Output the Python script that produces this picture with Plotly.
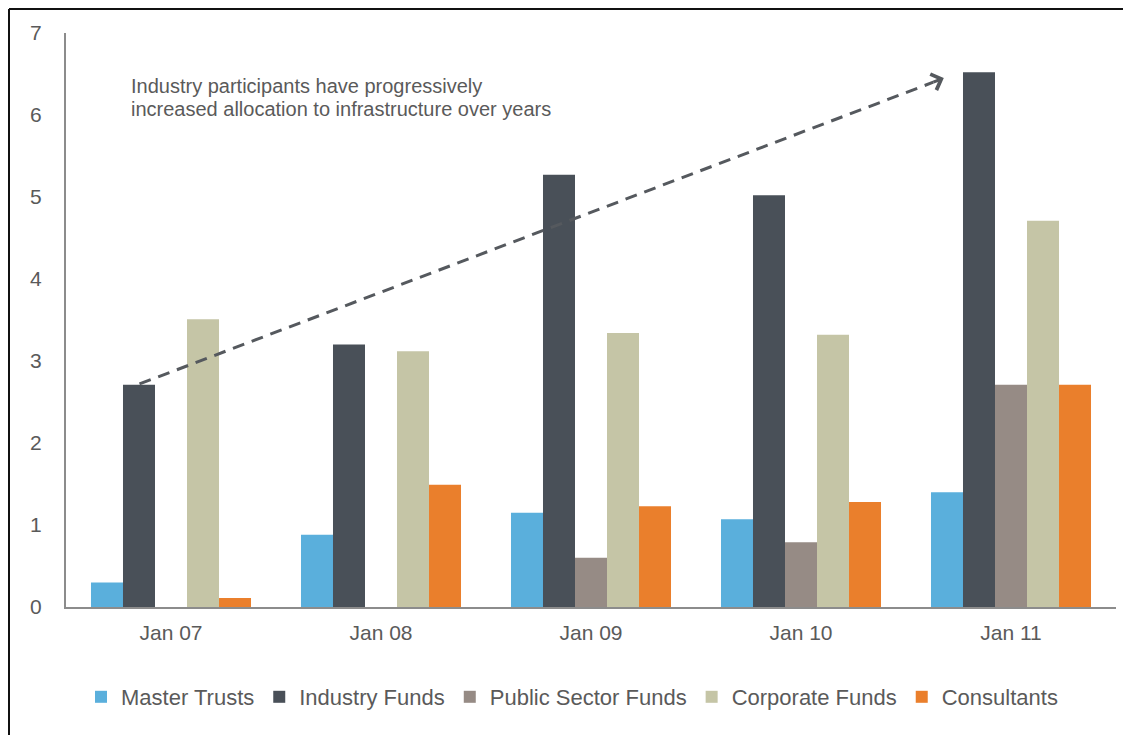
import plotly.graph_objects as go

# data
periods = ["Jan 07", "Jan 08", "Jan 09", "Jan 10", "Jan 11"]
master_trusts = [0.30, 0.88, 1.15, 1.07, 1.40]
industry_funds = [2.71, 3.20, 5.27, 5.02, 6.52]
public_sector_funds = [0.0, 0.0, 0.60, 0.79, 2.71]
corporate_funds = [3.51, 3.12, 3.34, 3.32, 4.71]
consultants = [0.11, 1.49, 1.23, 1.28, 2.71]

y_ticks = [0, 1, 2, 3, 4, 5, 6, 7]
note_lines = ["Industry participants have progressively",
              "increased allocation to infrastructure over years"]

series = [
    ("Master Trusts", master_trusts, "#5aafdc"),
    ("Industry Funds", industry_funds, "#495058"),
    ("Public Sector Funds", public_sector_funds, "#968b85"),
    ("Corporate Funds", corporate_funds, "#c5c5a6"),
    ("Consultants", consultants, "#ea7f2c"),
]

# page body has an 8px margin, so the figure is shrunk by that much
W, H = 1123, 727
M_L, M_R, M_T, M_B = 58, 15, 25, 128
PW = W - M_L - M_R
PH = H - M_T - M_B
TEXT = "#5a5a5a"
FONT = "Liberation Sans, Arial, sans-serif"


def px(x):
    # reference-image x pixel -> paper fraction
    return (x - 8 - M_L) / PW


def py(y):
    # reference-image y pixel -> paper fraction
    return (H - M_B - (y - 8)) / PH


fig = go.Figure()
for name, vals, color in series:
    fig.add_trace(go.Bar(
        x=periods, y=vals, name=name,
        marker=dict(color=color, line=dict(width=0)),
    ))

# dashed trend arrow (body + chevron head)
ARROW_FROM = (-0.15, 2.72)
ARROW_TO = (3.68, 6.45)
fig.add_shape(
    type="line", xref="x", yref="y",
    x0=ARROW_FROM[0], y0=ARROW_FROM[1], x1=ARROW_TO[0] - 0.05, y1=ARROW_TO[1] - 0.05,
    line=dict(color="#55595e", width=3, dash="12px,8px"),
)
fig.add_annotation(
    x=ARROW_TO[0], y=ARROW_TO[1], xref="x", yref="y",
    text="", showarrow=True, arrowhead=4, arrowsize=1.1, arrowwidth=3,
    arrowcolor="#55595e", ax=-12, ay=4.6,
)

for i, line in enumerate(note_lines):
    fig.add_annotation(
        xref="paper", yref="paper", x=px(129), y=py(86 + 23 * i),
        xanchor="left", yanchor="middle", align="left", showarrow=False,
        text=line, font=dict(size=20, color=TEXT, family=FONT),
    )

# frame of the original slide (top and left edges)
fig.add_shape(type="line", xref="paper", yref="paper",
              x0=px(9), x1=px(1140), y0=py(9), y1=py(9),
              line=dict(color="#111111", width=2))
fig.add_shape(type="line", xref="paper", yref="paper",
              x0=px(9), x1=px(9), y0=py(9), y1=py(745),
              line=dict(color="#111111", width=2))

fig.update_layout(
    width=W, height=H,
    margin=dict(l=M_L, r=M_R, t=M_T, b=M_B),
    plot_bgcolor="white", paper_bgcolor="white",
    barmode="group", bargap=0.238, bargroupgap=0,
    font=dict(family=FONT, color=TEXT, size=20),
    xaxis=dict(
        type="category", range=[-0.5, 4.5],
        showline=True, linecolor="#8c8c8c", linewidth=2,
        showgrid=False, zeroline=False, ticks="",
        ticklabelstandoff=6,
        tickfont=dict(size=21, color=TEXT),
    ),
    yaxis=dict(
        range=[0, 7], tickvals=y_ticks,
        showline=True, linecolor="#8c8c8c", linewidth=2,
        showgrid=False, zeroline=False, ticks="",
        ticklabelstandoff=18,
        tickfont=dict(size=21, color=TEXT),
    ),
    legend=dict(
        orientation="h", x=px(572), xanchor="center", y=py(697), yanchor="middle",
        font=dict(size=22, color=TEXT), itemwidth=30,
        traceorder="normal",
    ),
)

fig.write_html("out.html")
